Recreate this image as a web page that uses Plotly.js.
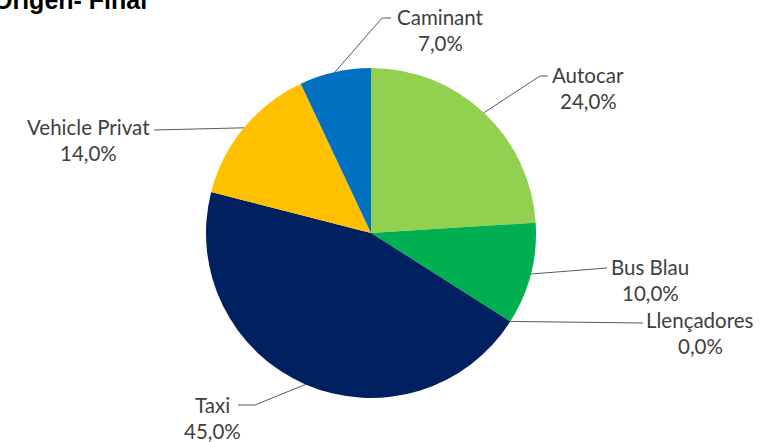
<!DOCTYPE html>
<html>
<head>
<meta charset="utf-8">
<script src="https://cdn.plot.ly/plotly-3.0.1.min.js"></script>
<style>html,body{margin:0;padding:0;background:#fff;}#chart{width:767px;height:442px;}</style>
</head>
<body>
<div id="chart"></div>
<script>
// ---- data ----
const labels = ["Autocar", "Bus Blau", "Llençadores", "Taxi", "Vehicle Privat", "Caminant"];
const values = [24.0, 10.0, 0.0, 45.0, 14.0, 7.0];
const colors = ["#92D050", "#00B050", "#7F7F7F", "#002060", "#FFC000", "#0070C0"];
const titleText = "Origen- Final";

// ---- layout (pixel positions) ----
const W = 767, H = 442;
const pieCx = 371, pieCy = 233, pieR = 165;
// label centre x, name line centre y
const labelPos = [[588, 75], [650, 267], [700, 320], [212, 405], [88, 127], [440, 17]];
// leader-line bend points after the pie edge
const leaderPts = [
  [[540, 76], [548, 76]],
  [[607, 268]],
  [[643, 323]],
  [[255, 405], [238, 405]],
  [[154, 130]],
  [[382, 18], [391, 18]]
];

const px = x => x / W;
const py = y => 1 - y / H;

function fmt(v) { return v.toFixed(1).replace('.', ',') + '%'; }

const total = values.reduce((a, b) => a + b, 0);
const annotations = [];
const shapes = [];
const labelFont = {family: 'Lato, Open Sans, sans-serif', size: 20.5, color: '#404040'};
let cum = 0;
values.forEach((v, i) => {
  const mid = (cum + v / 2) / total * 2 * Math.PI;
  cum += v;
  const ex = pieCx + pieR * Math.sin(mid);
  const ey = pieCy - pieR * Math.cos(mid);
  let path = `M ${px(ex)} ${py(ey)}`;
  leaderPts[i].forEach(p => { path += ` L ${px(p[0])} ${py(p[1])}`; });
  shapes.push({type: 'path', xref: 'paper', yref: 'paper', path: path,
               line: {color: '#595959', width: 1}});
  const [lx, ly] = labelPos[i];
  annotations.push({xref: 'paper', yref: 'paper', x: px(lx), y: py(ly),
    xanchor: 'center', yanchor: 'middle', showarrow: false, text: labels[i],
    font: labelFont});
  annotations.push({xref: 'paper', yref: 'paper', x: px(lx), y: py(ly + 26),
    xanchor: 'center', yanchor: 'middle', showarrow: false, text: fmt(values[i]),
    font: labelFont});
});

annotations.push({xref: 'paper', yref: 'paper', x: px(-9), y: py(0),
  xanchor: 'left', yanchor: 'middle', showarrow: false, text: '<b>' + titleText + '</b>',
  font: {family: 'Liberation Sans, Arial, sans-serif', size: 25, color: '#000000'}});

const trace = {
  type: 'pie',
  labels: labels,
  values: values,
  sort: false,
  direction: 'clockwise',
  rotation: 0,
  marker: {colors: colors, line: {width: 0}},
  textinfo: 'none',
  hoverinfo: 'label+percent',
  showlegend: false,
  domain: {x: [px(pieCx - pieR), px(pieCx + pieR)], y: [py(pieCy + pieR), py(pieCy - pieR)]}
};

const layout = {
  width: W, height: H,
  margin: {l: 0, r: 0, t: 0, b: 0},
  paper_bgcolor: '#ffffff',
  showlegend: false,
  annotations: annotations,
  shapes: shapes
};

Plotly.newPlot('chart', [trace], layout, {displayModeBar: false, staticPlot: true});
</script>
</body>
</html>
